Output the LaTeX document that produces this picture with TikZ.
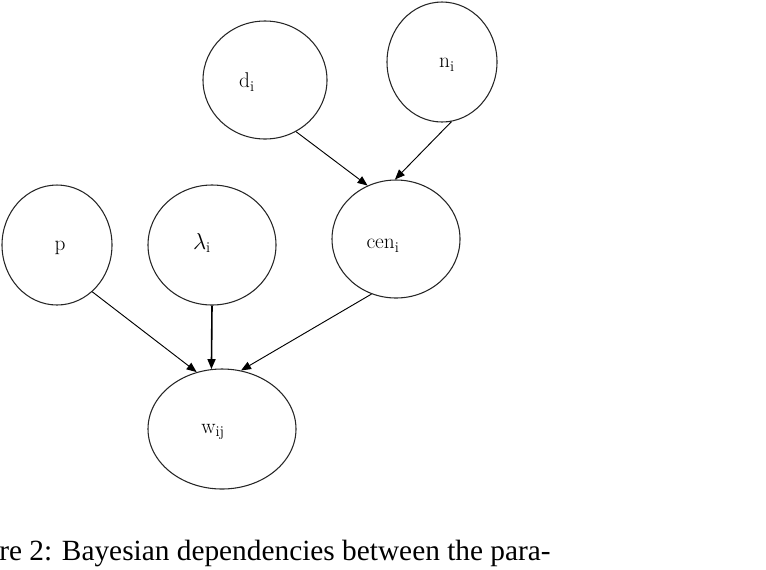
\documentclass[tikz,border=0pt]{standalone}
\usepackage{fontspec}
\newfontfamily\capfont{Liberation Serif}
\usetikzlibrary{shapes.geometric, arrows.meta}

\begin{document}
\begin{tikzpicture}[
        x=0.75pt, y=-0.75pt,
        var/.style={ellipse, draw=black!85, line width=0.8pt, inner sep=0pt},
        arrow/.style={-{Triangle[length=7.5pt,width=6pt]}, line width=0.7pt},
        every label/.style={font=\fontsize{16}{18}\selectfont}
    ]
        \useasboundingbox (0,0) rectangle (766,569);

        \node[var, minimum width=93pt, minimum height=88.5pt, label={[xshift=-13.5pt, yshift=-1.5pt]center:d$_\mathrm{i}$}] (d) at (265,80) {};
        \node[var, minimum width=82.5pt, minimum height=90pt, label={[xshift=3.75pt, yshift=-2.25pt]center:n$_\mathrm{i}$}] (n) at (442,62) {};
        \node[var, minimum width=96pt, minimum height=88.5pt, label={[xshift=-9.75pt, yshift=-5.25pt]center:cen$_\mathrm{i}$}] (cen) at (396,239) {};
        \node[var, minimum width=82.5pt, minimum height=90pt, label={[xshift=2.25pt, yshift=-2.25pt]center:p}] (p) at (57,245) {};
        \node[var, minimum width=96pt, minimum height=90pt, label={[xshift=-7.5pt, yshift=1.5pt]center:$\lambda_\mathrm{i}$}] (lambda) at (212,245) {};
        \node[var, minimum width=111pt, minimum height=90pt, label={[xshift=-6.75pt, yshift=-2.25pt]center:w$_\mathrm{ij}$}] (w) at (222,429) {};

        \node[anchor=base west, inner sep=0pt, font=\capfont\fontsize{22}{26}\selectfont] (caption) at (-1,560) {re 2: Bayesian dependencies between the para-};

        \draw[arrow] (d.-59) -- (cen.118);
        \draw[arrow] (n.-81) -- (cen.91);
        \draw[arrow] (p.-53) -- (w.114);
        \draw[arrow, line width=1.2pt] (lambda.-90) -- (w.100);
        \draw[arrow] (cen.-114) -- (w.72);
    \end{tikzpicture}
\end{document}
